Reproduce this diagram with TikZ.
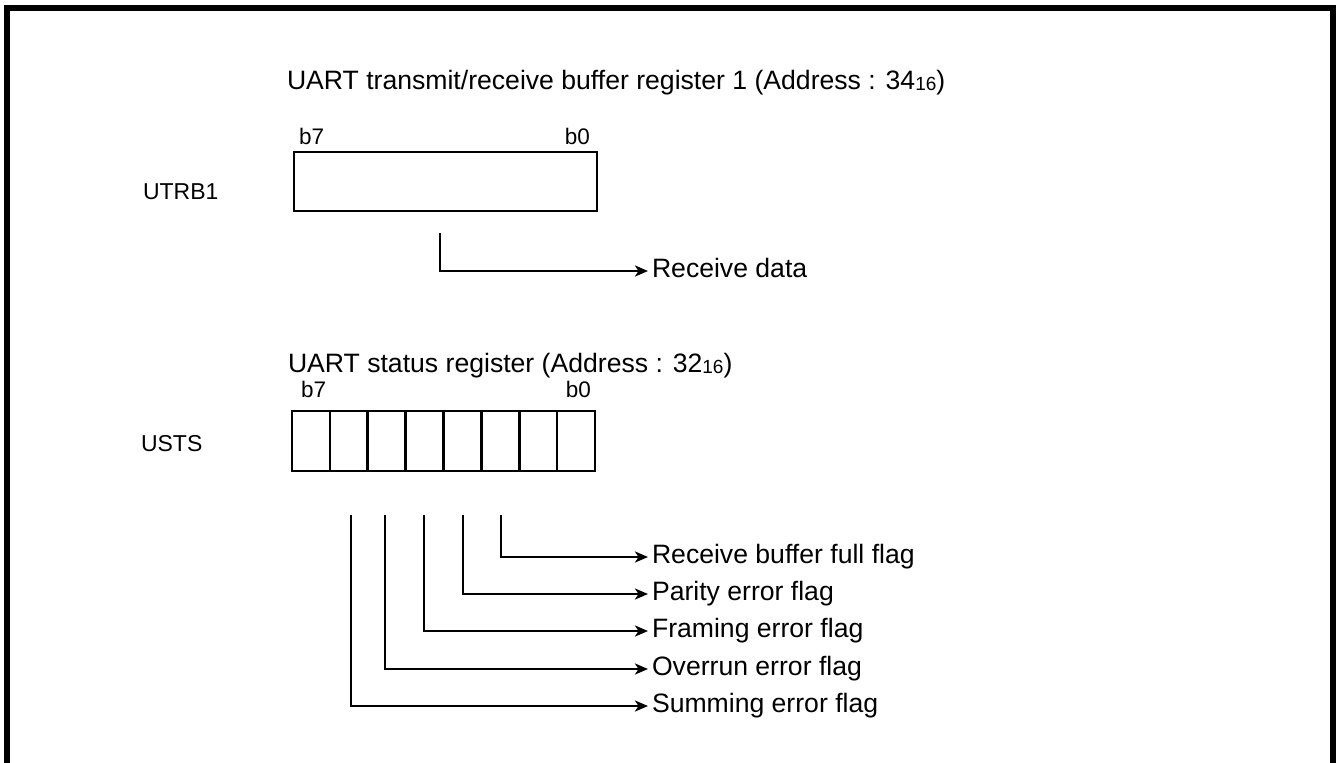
\documentclass[tikz,border=0pt]{standalone}
\usepackage{fontspec}
\setmainfont{Liberation Sans}
\usetikzlibrary{arrows.meta}
\newcommand{\subsix}[1]{\raisebox{-1pt}{\fontsize{19}{20}\selectfont #1}}
\begin{document}
\begin{tikzpicture}[x=1pt,y=-1pt,
  bigtxt/.style={font=\fontsize{26.6}{30}\selectfont, inner sep=0pt, outer sep=0pt},
  regname/.style={font=\fontsize{23}{27}\selectfont, inner sep=0pt, outer sep=0pt, anchor=base west},
  bittxt/.style={font=\fontsize{22.5}{26}\selectfont, inner sep=0pt, outer sep=0pt},
  regbox/.style={draw, line width=2.6pt, inner sep=0pt, outer sep=0pt},
  flagtxt/.style={bigtxt, anchor=west, inner xsep=4pt, text height=19pt, text depth=5.5pt},
  conn/.style={line width=2.8pt, -{Stealth[length=13pt,width=11pt,inset=3.5pt]}}
]
\useasboundingbox (0,0) rectangle (1336,763);
% outer frame (open at the bottom)
\draw[line width=6pt, line join=miter] (7,766) -- (7,8) -- (1333,8) -- (1333,766);

% ---- UTRB1 ----
\node[bigtxt, anchor=base west] (title1) at (287,89) {UART transmit/receive buffer register 1 (Address : 34\subsix{16})};
\node[bittxt, anchor=base west] (b7a) at (299,144) {b7};
\node[bittxt, anchor=base east] (b0a) at (590,144) {b0};
\node[regname] (lbl1) at (143,199) {UTRB1};
\node[regbox, minimum width=303pt, minimum height=59pt] (reg1) at (445.5,181.5) {};
\coordinate (s0) at (440,233);
\node[flagtxt] (recv) at (648,271) {Receive data};
\draw[conn] (s0) |- (recv.west);

% ---- USTS ----
\node[bigtxt, anchor=base west] (title2) at (288,372) {UART status register (Address : 32\subsix{16})};
\node[bittxt, anchor=base west] (b7b) at (301,397) {b7};
\node[bittxt, anchor=base east] (b0b) at (591,397) {b0};
\node[regname] (lbl2) at (141,451) {USTS};
\foreach \i in {1,...,8} {
  \node[regbox, minimum width=37.875pt, minimum height=60pt] (c\i) at ({292+37.875*(\i-0.5)},441) {};
}
\coordinate (s1) at (501,515);
\coordinate (s2) at (463,515);
\coordinate (s3) at (424,515);
\coordinate (s4) at (385,515);
\coordinate (s5) at (351,515);
\node[flagtxt] (f1) at (648,557) {Receive buffer full flag};
\node[flagtxt] (f2) at (648,594) {Parity error flag};
\node[flagtxt] (f3) at (648,631) {Framing error flag};
\node[flagtxt] (f4) at (648,669) {Overrun error flag};
\node[flagtxt] (f5) at (648,706) {Summing error flag};
\draw[conn] (s1) |- (f1.west);
\draw[conn] (s2) |- (f2.west);
\draw[conn] (s3) |- (f3.west);
\draw[conn] (s4) |- (f4.west);
\draw[conn] (s5) |- (f5.west);
\end{tikzpicture}
\end{document}
